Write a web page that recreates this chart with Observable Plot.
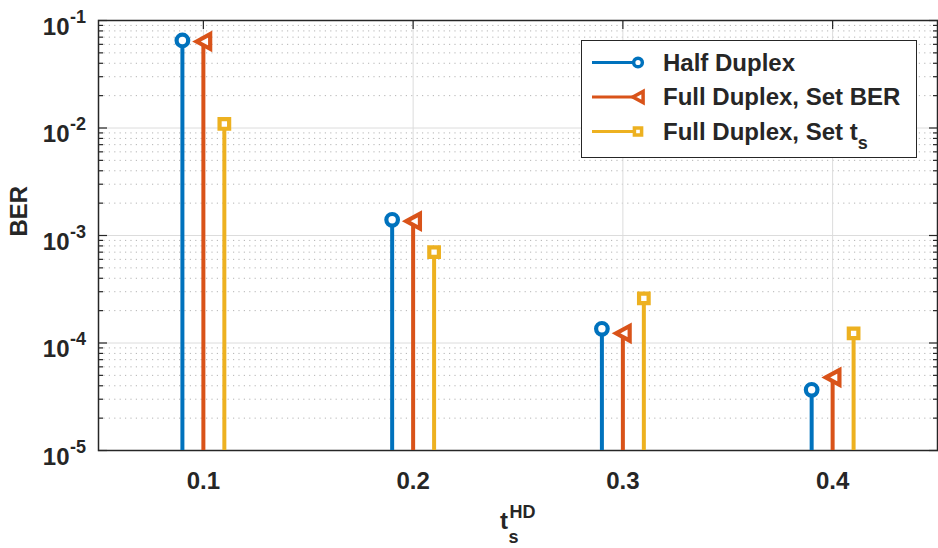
<!DOCTYPE html>
<html>
<head>
<meta charset="utf-8">
<script src="https://cdn.jsdelivr.net/npm/d3@7"></script>
<script src="https://cdn.jsdelivr.net/npm/@observablehq/plot@0.6"></script>
<style>
  html, body { margin: 0; padding: 0; background: #fff; }
  #chart svg { display: block; }
</style>
</head>
<body>
<div id="chart"></div>
<script>
// Switching time t_s^HD (x categories)
const tsHD = [0.1, 0.2, 0.3, 0.4];

// BER per scheme at each switching time
const halfDuplex       = [0.0652, 1.40e-3, 1.355e-4, 3.67e-5];
const fullDuplexSetBER = [0.0638, 1.36e-3, 1.23e-4, 4.78e-5];
const fullDuplexSetTs  = [0.0109, 7.0e-4, 2.6e-4, 1.23e-4];

const seriesNames  = ["Half Duplex", "Full Duplex, Set BER", "Full Duplex, Set t"];
const seriesColors = ["#0072BD", "#D95319", "#EDB120"];
const seriesShift  = [-0.01, 0, 0.01];   // side-by-side stems around each category

// Axis ticks
const xTicks = [0.1, 0.2, 0.3, 0.4];
const yMajorTicks = [1e-5, 1e-4, 1e-3, 1e-2, 1e-1];
const yMinorTicks = [];
for (const d of yMajorTicks.slice(0, -1)) for (let m = 2; m <= 9; m++) yMinorTicks.push(m * d);

const yFloor = 1e-5;
const INK = "#262626";
const FONT = "'Liberation Sans', Arial, Helvetica, sans-serif";

// Left-pointing triangle marker
const triangleLeft = {
  draw(context, size) {
    const r = Math.sqrt(size / Math.PI);
    context.moveTo(-r, 0);
    context.lineTo(r, -1.08 * r);
    context.lineTo(r, 1.08 * r);
    context.closePath();
  }
};
const seriesSymbols = ["circle", triangleLeft, "square"];
const seriesR = [5.8, 6.8, 5.4];

const seriesValues = [halfDuplex, fullDuplexSetBER, fullDuplexSetTs];
const rows = seriesValues.flatMap((vals, s) =>
  tsHD.map((t, i) => ({series: s, t, x: t + seriesShift[s], v: vals[i]}))
);

const stemMarks = seriesValues.map((_, s) =>
  Plot.ruleX(rows.filter(d => d.series === s), {
    x: "x", y1: () => yFloor, y2: "v", stroke: seriesColors[s], strokeWidth: 4
  })
);
const markerMarks = seriesValues.map((_, s) =>
  Plot.dot(rows.filter(d => d.series === s), {
    x: "x", y: "v", symbol: seriesSymbols[s], r: seriesR[s],
    fill: "white", stroke: seriesColors[s], strokeWidth: 4.2, strokeLinejoin: "miter"
  })
);

const tickStyle = {stroke: INK, strokeWidth: 1.2, tickFormat: () => "", label: null};

const svg = Plot.plot({
  width: 938,
  height: 548,
  marginLeft: 98,
  marginRight: 1,
  marginTop: 20,
  marginBottom: 98,
  x: {domain: [0.05, 0.45]},
  y: {type: "log", domain: [1e-5, 1e-1]},
  style: {fontFamily: FONT, color: INK, background: "white"},
  marks: [
    // grid
    Plot.gridY(yMinorTicks, {stroke: "#b4b4b4", strokeOpacity: 1, strokeWidth: 1, strokeDasharray: "1.2,4.2"}),
    Plot.gridY(yMajorTicks, {stroke: "#dcdcdc", strokeOpacity: 1, strokeWidth: 1}),
    Plot.gridX(xTicks, {stroke: "#dcdcdc", strokeOpacity: 1, strokeWidth: 1}),
    // inward tick marks on all four sides
    Plot.axisY(yMajorTicks, {anchor: "left", tickSize: -9, ...tickStyle}),
    Plot.axisY(yMinorTicks, {anchor: "left", tickSize: -5, ...tickStyle}),
    Plot.axisY(yMajorTicks, {anchor: "right", tickSize: -9, ...tickStyle}),
    Plot.axisY(yMinorTicks, {anchor: "right", tickSize: -5, ...tickStyle}),
    Plot.axisX(xTicks, {anchor: "bottom", tickSize: -8, ...tickStyle}),
    Plot.axisX(xTicks, {anchor: "top", tickSize: -8, ...tickStyle}),
    Plot.frame({stroke: INK, strokeWidth: 1.5}),
    // stems and markers
    ...stemMarks,
    ...markerMarks,
    // y tick labels: 10 with a superscript exponent
    Plot.text(yMajorTicks, {y: d => d, frameAnchor: "left", text: () => "10", textAnchor: "end",
      lineAnchor: "bottom", dx: -29, dy: 14, fontSize: 24, fontWeight: "bold", fill: INK}),
    Plot.text(yMajorTicks, {y: d => d, frameAnchor: "left", text: d => String(Math.round(Math.log10(d))),
      textAnchor: "start", lineAnchor: "bottom", dx: -28.5, dy: 2, fontSize: 18, fontWeight: "bold", fill: INK}),
    // x tick labels
    Plot.text(xTicks, {x: d => d, frameAnchor: "bottom", text: d => d.toFixed(1), lineAnchor: "bottom",
      dy: 38, fontSize: 24, fontWeight: "bold", fill: INK}),
    // axis titles
    Plot.text(["BER"], {frameAnchor: "left", text: d => d, rotate: -90, dx: -79.5, dy: 1,
      fontSize: 24, fontWeight: "bold", fill: INK}),
    Plot.text(["t"], {frameAnchor: "bottom", text: d => d, textAnchor: "end", lineAnchor: "bottom",
      dx: -10, dy: 78, fontSize: 24, fontWeight: "bold", fill: INK}),
    Plot.text(["s"], {frameAnchor: "bottom", text: d => d, textAnchor: "start", lineAnchor: "bottom",
      dx: -9.5, dy: 92, fontSize: 18, fontWeight: "bold", fill: INK}),
    Plot.text(["HD"], {frameAnchor: "bottom", text: d => d, textAnchor: "start", lineAnchor: "bottom",
      dx: -8.5, dy: 67, fontSize: 18, fontWeight: "bold", fill: INK})
  ]
});

// Legend box in the upper right of the axes
const lg = d3.select(svg).append("g")
  .attr("font-family", FONT).attr("font-weight", "bold").attr("fill", INK)
  .attr("text-anchor", "start");
lg.append("rect")
  .attr("x", 581.5).attr("y", 40.5).attr("width", 335).attr("height", 117)
  .attr("fill", "white").attr("stroke", INK).attr("stroke-width", 1);

const rowY = [62.5, 97, 131.5];
seriesNames.forEach((name, s) => {
  const y = rowY[s];
  lg.append("line")
    .attr("x1", 592).attr("x2", 638).attr("y1", y).attr("y2", y)
    .attr("stroke", seriesColors[s]).attr("stroke-width", 3);
  const sym = seriesSymbols[s];
  const r = seriesR[s] * 0.75;
  const type = sym === "circle" ? d3.symbolCircle : sym === "square" ? d3.symbolSquare : sym;
  lg.append("path")
    .attr("transform", `translate(638,${y})`)
    .attr("d", d3.symbol(type, r * r * Math.PI)())
    .attr("fill", "white").attr("stroke", seriesColors[s]).attr("stroke-width", 3.5)
    .attr("stroke-linejoin", "miter");
  const t = lg.append("text")
    .attr("x", 663).attr("y", y + 8).attr("font-size", 24).text(name);
  if (s === 2) {
    t.append("tspan").attr("dy", 9).attr("font-size", 18).text("s");
  }
});

document.getElementById("chart").appendChild(svg);
</script>
</body>
</html>
